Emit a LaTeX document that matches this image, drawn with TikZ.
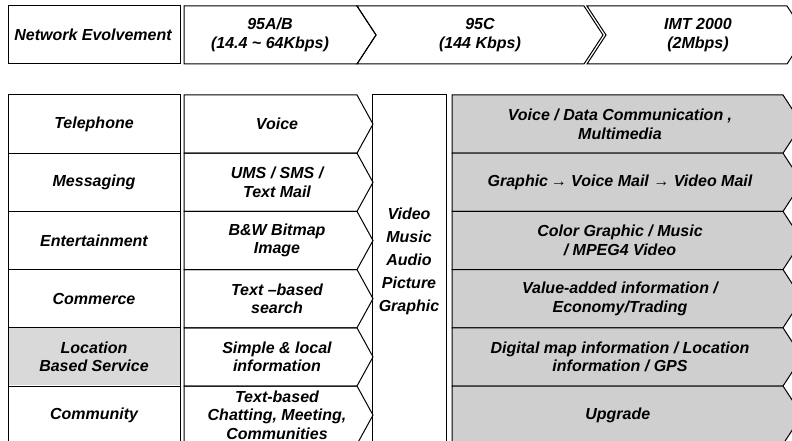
\documentclass[tikz,border=0pt]{standalone}
\usepackage{fontspec}
\setmainfont{Liberation Sans}
\usetikzlibrary{calc}

\tikzset{
  lbl/.style={font=\fontsize{16}{18.5}\selectfont\bfseries\itshape, align=center, inner sep=0pt},
  cell/.style={draw=black, line width=1pt, line join=miter},
  graycell/.style={cell, fill=gray!38},
}

\begin{document}
\begin{tikzpicture}[x=1pt,y=-1pt]
\useasboundingbox (0,0) rectangle (792,441);

% header row
\draw[cell] (8,6) rectangle (180,64);
\node[lbl] (net) at (93,35) {Network Evolvement};
\draw[cell] (184,6) -- (357,6) -- (376,35) -- (357,64) -- (184,64) -- cycle;
\draw[cell] (357,6) -- (584,6) -- (603,35) -- (584,64) -- (357,64) -- (376,35) -- cycle;
\draw[cell] (587,6) -- (787,6) -- (806,35) -- (787,64) -- (587,64) -- (606,35) -- cycle;
\node[lbl] (gen95ab) at (270,35) {95A/B\\(14.4 \textasciitilde{} 64Kbps)};
\node[lbl] (gen95c) at (480,35) {95C\\(144 Kbps)};
\node[lbl] (imt) at (698,35) {IMT 2000\\(2Mbps)};

% shaded service cell
\fill[gray!30] (8,327) rectangle (180,385);

% service rows
\foreach \i/\svc/\old/\new in {
  0/{Telephone}/{Voice}/{Voice / Data Communication ,\\Multimedia},
  1/{Messaging}/{UMS / SMS /\\Text Mail}/{Graphic\,→ Voice Mail → Video Mail},
  2/{Entertainment}/{B\&W Bitmap\\Image}/{Color Graphic / Music\\/ MPEG4 Video},
  3/{Commerce}/{Text --based\\search}/{Value-added information /\\Economy/Trading},
  4/{Location\\Based Service}/{Simple \& local\\information}/{Digital map information / Location\\information / GPS},
  5/{Community}/{Text-based\\Chatting, Meeting,\\Communities}/{Upgrade}
}{
  \pgfmathsetmacro{\ya}{95+58.2*\i}
  \pgfmathsetmacro{\yb}{\ya+58.2}
  \pgfmathsetmacro{\ym}{\ya+29.1}
  \draw[cell] (8,\ya) rectangle (180,\yb);
  \draw[cell] (184,\ya) -- (357,\ya) -- (373,\ym) -- (357,\yb) -- (184,\yb) -- cycle;
  \draw[graycell] (452,\ya) -- (783,\ya) -- (802,\ym) -- (783,\yb) -- (452,\yb) -- cycle;
  \node[lbl] (svc\i) at (94,\ym) {\svc};
  \node[lbl] (old\i) at (277,\ym) {\old};
  \node[lbl] (new\i) at (620,\ym) {\new};
}

% media column
\draw[cell] (372,95) rectangle (446,446);
\node[lbl, font=\fontsize{16}{23}\selectfont\bfseries\itshape] (media) at (409,261)
  {Video\\Music\\Audio\\Picture\\Graphic};
\end{tikzpicture}
\end{document}
